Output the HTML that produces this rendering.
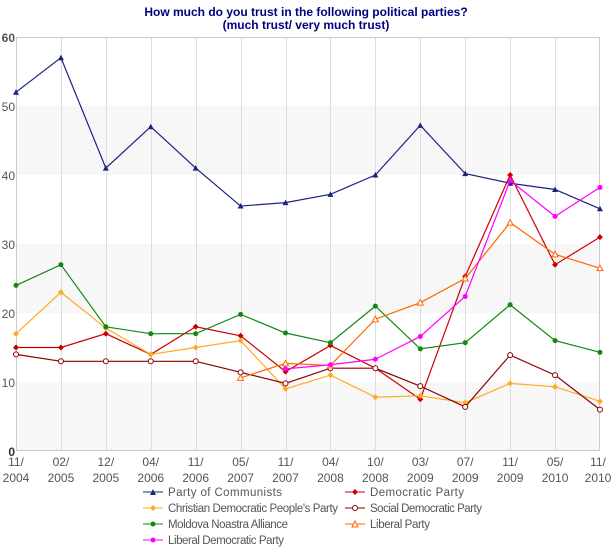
<!DOCTYPE html>
<html><head><meta charset="utf-8"><style>
html,body{margin:0;padding:0;background:#fff;}
svg{display:block;font-family:"Liberation Sans",Verdana,sans-serif;}
</style></head><body>
<svg width="613" height="549" viewBox="0 0 613 549" xmlns="http://www.w3.org/2000/svg">
<text x="306" y="16" text-anchor="middle" font-size="12" font-weight="bold" fill="#000080">How much do you trust in the following political parties?</text>
<text x="306" y="29" text-anchor="middle" font-size="12" font-weight="bold" fill="#000080">(much trust/ very much trust)</text>
<rect x="16" y="106" width="584" height="69" fill="#f7f7f7"/>
<rect x="16" y="244" width="584" height="69" fill="#f7f7f7"/>
<rect x="16" y="382" width="584" height="69" fill="#f7f7f7"/>
<g stroke="#dddddd" stroke-width="1" id="vg"></g>
<rect x="16.5" y="37.5" width="583" height="413" fill="none" stroke="#cccccc"/>
<g font-size="12" fill="#555" text-anchor="end">
<text x="15" y="42" font-weight="bold">60</text>
<text x="15" y="111">50</text>
<text x="15" y="180">40</text>
<text x="15" y="249">30</text>
<text x="15" y="318">20</text>
<text x="15" y="387">10</text>
<text x="15" y="456" font-weight="bold" fill="#333">0</text>
</g>
<g id="xl" font-size="12" fill="#555" text-anchor="middle"></g>
<g id="series"></g>
<g font-size="11.5" fill="#555">
<line x1="143" y1="492" x2="163" y2="492" stroke="#1a237e"/><path d="M150,495 L153,489 L156,495Z" fill="#1a237e"/><text x="168" y="496" textLength="114">Party of Communists</text>
<line x1="345" y1="492" x2="365" y2="492" stroke="#cc0000"/><path d="M355,489 L358,492 L355,495 L352,492Z" fill="#cc0000"/><text x="370" y="496" textLength="94">Democratic Party</text>
<line x1="143" y1="508" x2="163" y2="508" stroke="#ffaa22"/><path d="M153,505 L156,508 L153,511 L150,508Z" fill="#ffaa22"/><text x="168" y="512" textLength="170">Christian Democratic People's Party</text>
<line x1="345" y1="508" x2="365" y2="508" stroke="#8b0000"/><circle cx="355" cy="508" r="2.5" fill="#fff" stroke="#8b0000"/><text x="370" y="512" textLength="112">Social Democratic Party</text>
<line x1="143" y1="524" x2="163" y2="524" stroke="#118811"/><circle cx="153" cy="524" r="2.5" fill="#118811"/><text x="168" y="528" textLength="120">Moldova Noastra Alliance</text>
<line x1="345" y1="524" x2="365" y2="524" stroke="#ff6600"/><path d="M352,527 L355,521 L358,527Z" fill="#fff" stroke="#ff6600"/><text x="370" y="528" textLength="60">Liberal Party</text>
<line x1="143" y1="540" x2="163" y2="540" stroke="#ff00ff"/><circle cx="153" cy="540" r="2.5" fill="#ff00ff"/><text x="168" y="544" textLength="116">Liberal Democratic Party</text>
</g>
<script>
var NS="http://www.w3.org/2000/svg";
var X=function(i){return 16+i*44.92;},Y=function(v){return 451-v*6.9;};
var labs=["11/|2004","02/|2005","12/|2005","04/|2006","11/|2006","05/|2007","11/|2007","04/|2008","10/|2008","03/|2009","07/|2009","11/|2009","05/|2010","11/|2010"];
var vg=document.getElementById('vg'),xl=document.getElementById('xl');
labs.forEach(function(l,i){var x=X(i);
 if(i>0&&i<13){var ln=document.createElementNS(NS,'line');ln.setAttribute('x1',Math.round(x)+.5);ln.setAttribute('x2',Math.round(x)+.5);ln.setAttribute('y1',37);ln.setAttribute('y2',451);vg.appendChild(ln);}
 var p=l.split('|');[0,1].forEach(function(k){var t=document.createElementNS(NS,'text');t.setAttribute('x',Math.min(x,598));t.setAttribute('y',k?482:466);t.textContent=p[k];xl.appendChild(t);});
});
var S=[
["#1a237e","tri",0,[52,57,41,47,41,35.5,36,37.2,40,47.2,40.2,38.8,37.9,35.1]],
["#cc0000","dia",0,[15,15,17,14,18,16.7,11.5,15.3,12,7.5,25.3,40,27,31]],
["#ffaa22","dia",0,[17,23,17.8,14,15,16,9,11,7.8,8,7,9.8,9.3,7.2]],
["#8b0000","ocirc",0,[14,13,13,13,13,11.4,9.8,12,12,9.4,6.4,13.9,11,6]],
["#118811","circ",0,[24,27,18,17,17,19.8,17.1,15.7,21,14.8,15.7,21.2,16,14.3]],
["#ff6600","otri",5,[10.6,12.7,12.4,19.1,21.5,25,33.1,28.5,26.5]],
["#ff00ff","circ",6,[11.9,12.5,13.3,16.6,22.4,39.2,34,38.2]]];
var g=document.getElementById('series');
S.forEach(function(s){var c=s[0],pts=s[3].map(function(v,j){return [X(j+s[2]),Y(v)];});
 var pl=document.createElementNS(NS,'polyline');pl.setAttribute('points',pts.map(function(p){return p.join(',');}).join(' '));pl.setAttribute('fill','none');pl.setAttribute('stroke',c);pl.setAttribute('stroke-width','1.2');g.appendChild(pl);
 pts.forEach(function(p){var e,x=p[0],y=p[1];
  if(s[1]=="tri"||s[1]=="otri"){e=document.createElementNS(NS,'path');e.setAttribute('d','M'+(x-3)+','+(y+2.5)+' L'+x+','+(y-3)+' L'+(x+3)+','+(y+2.5)+'Z');}
  else if(s[1]=="dia"){e=document.createElementNS(NS,'path');e.setAttribute('d','M'+x+','+(y-3)+' L'+(x+3)+','+y+' L'+x+','+(y+3)+' L'+(x-3)+','+y+'Z');}
  else{e=document.createElementNS(NS,'circle');e.setAttribute('cx',x);e.setAttribute('cy',y);e.setAttribute('r',2.5);}
  if(s[1][0]=="o"){e.setAttribute('fill','#fff');e.setAttribute('stroke',c);}else e.setAttribute('fill',c);
  g.appendChild(e);});
});
</script>
</svg>
</body></html>
